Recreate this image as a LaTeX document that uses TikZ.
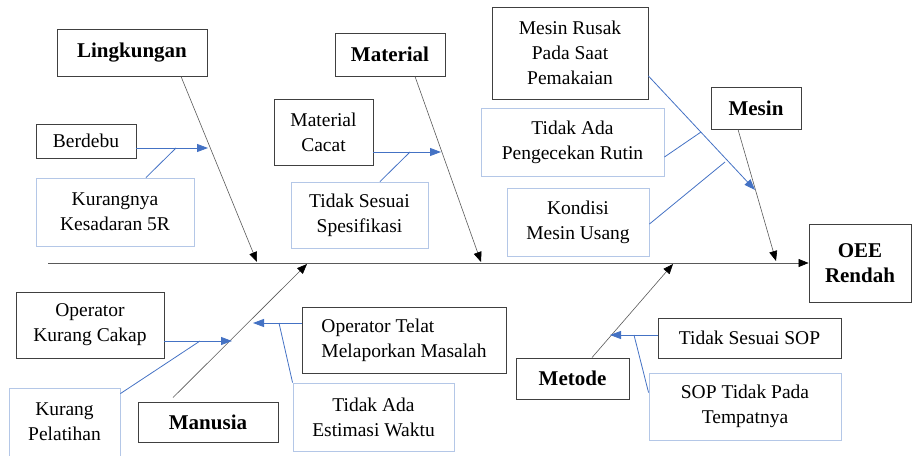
\documentclass[tikz,border=0pt]{standalone}
\usepackage{fontspec}
\setmainfont{Liberation Serif}
\usetikzlibrary{arrows.meta}
\definecolor{boxline}{HTML}{404040}
\definecolor{lightline}{HTML}{B4C7E7}
\definecolor{subblue}{HTML}{4472C4}
\definecolor{boneline}{HTML}{595959}
\tikzset{
  cause/.style={draw=boxline,line width=0.9pt,inner sep=0pt,align=center,font=\fontsize{19.5}{25}\selectfont},
  light/.style={cause,draw=lightline},
  head/.style={cause,font=\fontsize{21}{25}\selectfont\bfseries},
  bone/.style={draw=boneline,line width=0.6pt,-{Triangle[length=10pt,width=8pt,black]}},
  sub/.style={draw=subblue,line width=0.8pt,-{Triangle[length=11pt,width=8pt]}},
  branch/.style={draw=subblue,line width=0.8pt}
}
\begin{document}
\begin{tikzpicture}[x=1pt,y=-1pt]
\useasboundingbox (0,0) rectangle (912,455);
\node[head,minimum width=150pt,minimum height=47pt] (ling) at (132,52.5) {Lingkungan};
\node[head,minimum width=110pt,minimum height=43pt] (mat) at (390,54.5) {Material};
\node[head,minimum width=90pt,minimum height=42pt] (mesin) at (756,108) {Mesin};
\node[head,minimum width=140pt,minimum height=40pt] (manusia) at (208,422) {Manusia};
\node[head,minimum width=113pt,minimum height=41pt] (metode) at (572.5,378.5) {Metode};
\node[head,minimum width=102pt,minimum height=78pt] (oee) at (860,263) {OEE\\Rendah};
\node[cause,minimum width=100pt,minimum height=34pt] (berdebu) at (86,141) {Berdebu};
\node[light,minimum width=158pt,minimum height=68pt] (kesadaran) at (115,212) {Kurangnya\\Kesadaran 5R};
\node[cause,minimum width=99pt,minimum height=66pt] (cacat) at (323.5,132) {Material\\Cacat};
\node[light,minimum width=137pt,minimum height=66pt] (spesifikasi) at (359.5,215) {Tidak Sesuai\\Spesifikasi};
\node[cause,minimum width=156pt,minimum height=92pt] (rusak) at (570,53) {Mesin Rusak\\Pada Saat\\Pemakaian};
\node[light,minimum width=183pt,minimum height=68pt] (rutin) at (572.5,142) {Tidak Ada\\Pengecekan Rutin};
\node[light,minimum width=142pt,minimum height=68pt] (usang) at (578,222) {Kondisi\\Mesin Usang};
\node[cause,minimum width=148pt,minimum height=66pt] (cakap) at (90,325) {Operator\\Kurang Cakap};
\node[light,minimum width=111pt,minimum height=68pt] (pelatihan) at (64.5,422) {Kurang\\Pelatihan};
\node[cause,align=left,minimum width=204pt,minimum height=66pt] (telat) at (404,340) {Operator Telat\\Melaporkan Masalah};
\node[light,minimum width=161pt,minimum height=68pt] (estimasi) at (373.5,417) {Tidak Ada\\Estimasi Waktu};
\node[cause,minimum width=183pt,minimum height=40pt] (sop) at (749.5,338) {Tidak Sesuai SOP};
\node[light,minimum width=192pt,minimum height=67pt] (tempat) at (745,406.5) {SOP Tidak Pada\\Tempatnya};
\coordinate (tail) at (48,263);
\coordinate (s1) at (257,262);
\coordinate (s2) at (481,262);
\coordinate (s3) at (776,261);
\coordinate (s4) at (307,264);
\coordinate (s5) at (673,264);
\draw[bone] (tail) -- (oee.west);
\draw[bone] ([xshift=49pt]ling.south) -- (s1);
\draw[bone] ([xshift=25pt]mat.south) -- (s2);
\draw[bone] ([xshift=-18pt]mesin.south) -- (s3);
\draw[bone] ([xshift=-35pt,yshift=4pt]manusia.north) -- (s4);
\draw[bone] ([xshift=19.5pt]metode.north) -- (s5);
\coordinate (t1) at (208,148);
\coordinate (j1) at (176,148);
\draw[sub] (berdebu.east |- t1) -- (t1);
\draw[branch] ([xshift=31pt]kesadaran.north) -- (j1);
\coordinate (t2) at (441,152);
\coordinate (j2) at (410,152);
\draw[sub] (cacat.east |- t2) -- (t2);
\draw[branch] ([xshift=20.5pt]spesifikasi.north) -- (j2);
\coordinate (t3) at (755,190);
\coordinate (j3) at (701,132);
\coordinate (j4) at (725,162);
\draw[sub] ([yshift=-23pt]rusak.east) -- (t3);
\draw[branch] ([yshift=-15pt]rutin.east) -- (j3);
\draw[branch] ([yshift=-2pt]usang.east) -- (j4);
\coordinate (t4) at (232,341);
\coordinate (j5) at (200,341);
\draw[sub] (cakap.east |- t4) -- (t4);
\draw[branch] ([yshift=-6pt]pelatihan.north east) -- (j5);
\coordinate (t5) at (253,323);
\coordinate (j6) at (279,323);
\draw[sub] (telat.west |- t5) -- (t5);
\draw[branch] (estimasi.north west) -- (j6);
\coordinate (t6) at (610,335);
\coordinate (j7) at (634,335);
\draw[sub] (sop.west |- t6) -- (t6);
\draw[branch] ([yshift=-20pt]tempat.north west) -- (j7);
\end{tikzpicture}
\end{document}
